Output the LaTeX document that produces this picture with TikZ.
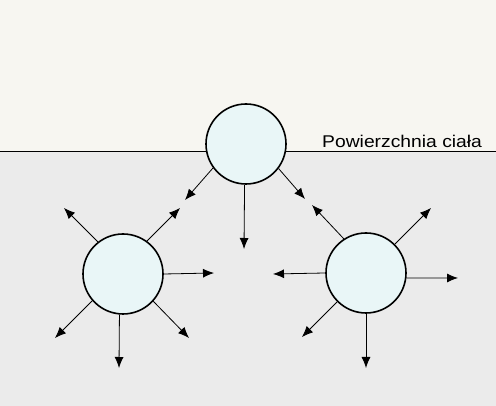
\documentclass[tikz,border=0pt]{standalone}
\usepackage{fontspec}
\setmainfont{Liberation Sans}
\usepackage{tikz}
\usetikzlibrary{positioning, arrows.meta}

\definecolor{skyside}{HTML}{F7F6F1}
\definecolor{bodyside}{HTML}{EBEBEB}
\definecolor{cellfill}{HTML}{E9F6F7}

\tikzset{
  cell/.style={circle, draw=black, line width=1.6pt, fill=cellfill, minimum size=80pt, inner sep=0pt},
  ray/.style={->, line width=0.8pt, black}
}

\begin{document}
\begin{tikzpicture}[x=1pt, y=1pt, >={Latex[length=11pt, width=9pt]}]
  \useasboundingbox (0,0) rectangle (496,406);
  % Background: outside and inside the body
  \fill[skyside] (0,255) rectangle (496,406);
  \fill[bodyside] (0,0) rectangle (496,255);
  \draw[line width=0.9pt, black] (0,255) -- (496,255);
  \node[anchor=base west, inner sep=0pt, font=\fontsize{17}{19}\selectfont] (surf) at (322,258) {\scalebox{1.135}[1]{Powierzchnia ciała}};

  % Cells
  \node[cell] (top) at (246,262) {};
  \node[cell] (left) at (123,132) {};
  \node[cell] (right) at (366,133) {};

  % Arrow ends
  \coordinate (t1) at (185,206);
  \coordinate (t2) at (244,157);
  \coordinate (t3) at (305,207);
  \coordinate (l1) at (64,198);
  \coordinate (l2) at (180,198);
  \coordinate (l3) at (214,133);
  \coordinate (l4) at (189,68);
  \coordinate (l5) at (119,38);
  \coordinate (l6) at (55,68);
  \coordinate (r1) at (312,201);
  \coordinate (r2) at (431,198);
  \coordinate (r3) at (273,132);
  \coordinate (r4) at (458,128);
  \coordinate (r5) at (302,69);
  \coordinate (r6) at (366,38);

  % Arrows from the top cell
  \draw[ray] (top.216) -- (t1);
  \draw[ray] (top.268) -- (t2);
  \draw[ray] (top.323) -- (t3);

  % Arrows from the left cell
  \draw[ray] (left.128) -- (l1);
  \draw[ray] (left.54) -- (l2);
  \draw[ray] (left.0) -- (l3);
  \draw[ray] (left.318) -- (l4);
  \draw[ray] (left.265) -- (l5);
  \draw[ray] (left.221) -- (l6);

  % Arrows from the right cell
  \draw[ray] (right.123) -- (r1);
  \draw[ray] (right.45) -- (r2);
  \draw[ray] (right.180) -- (r3);
  \draw[ray] (right.353) -- (r4);
  \draw[ray] (right.225) -- (r5);
  \draw[ray] (right.270) -- (r6);
\end{tikzpicture}
\end{document}
